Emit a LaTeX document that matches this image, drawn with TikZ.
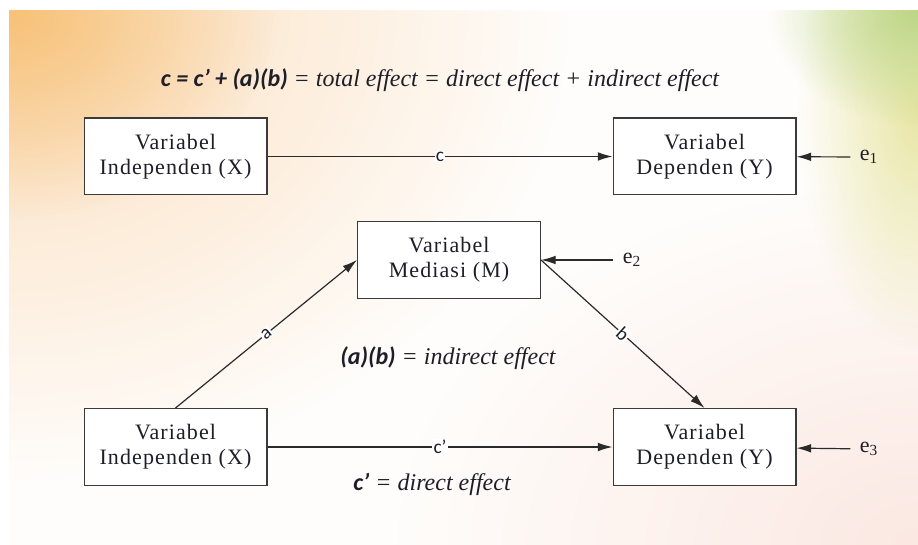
\documentclass[tikz,border=0pt]{standalone}
\usepackage{fontspec}
\setmainfont{Liberation Serif}
\newfontfamily\calib{Carlito}
\newfontfamily\timesit{Liberation Serif}
\newfontfamily\boxfont{Liberation Serif}[LetterSpace=5]
\usetikzlibrary{arrows.meta,fadings}

\definecolor{ink}{HTML}{1E1E28}
\definecolor{linec}{HTML}{2A2A2A}
\definecolor{boxc}{HTML}{3A3A3A}
\definecolor{cream}{HTML}{FFFDFB}
\definecolor{glowor}{HTML}{F7C278}
\definecolor{glowpe}{HTML}{FBDDBB}
\definecolor{glowgr}{HTML}{BCD686}
\definecolor{glowye}{HTML}{E8E6A4}
\definecolor{glowpk}{HTML}{FBE8E2}

\tikzfading[name=glow, inner color=transparent!0, outer color=transparent!100]

\tikzset{
  var/.style={draw=boxc, line width=1pt, fill=white, minimum width=137pt,
    minimum height=57.5pt, align=center, text=ink, inner sep=2pt,
    font=\boxfont\fontsize{16.5}{18.5}\selectfont},
  arr/.style={draw=linec, line width=0.9pt,
    -{Latex[length=11pt,width=6.5pt]}},
  lbl/.style={fill=white, inner sep=0.8pt, text=ink,
    font=\calib\fontsize{14.5}{14.5}\selectfont},
  err/.style={text=ink, inner xsep=7pt, font=\timesit\fontsize{16.5}{16.5}\selectfont},
  eqn/.style={text=ink, font=\fontsize{18}{18}\selectfont}
}

\begin{document}
\begin{tikzpicture}[x=0.75pt,y=-0.75pt]
\useasboundingbox (0,0) rectangle (918,545);
\fill[white] (0,0) rectangle (918,545);

% soft coloured backdrop
\begin{scope}
  \clip (9,11) rectangle (918,545);
  \fill[cream] (9,11) rectangle (918,545);
  \fill[glowpk, path fading=glow] (918,545) ellipse [x radius=520, y radius=360];
  \fill[glowpe, path fading=glow] (9,11) ellipse [x radius=560, y radius=470];
  \fill[glowor, path fading=glow] (9,11) ellipse [x radius=270, y radius=210];
  \fill[glowye, path fading=glow] (918,110) ellipse [x radius=120, y radius=240];
  \fill[glowgr, path fading=glow] (918,11) ellipse [x radius=150, y radius=115];
\end{scope}

% headline equation
\node[eqn] (title) at (440,80)
  {{\calib\bfseries\itshape c = c’ + (a)(b)} {\timesit\itshape = total effect = direct effect + indirect effect}};

% total effect model
\node[var] (X1) at (175.5,156.5) {Variabel\\Independen (X)};
\node[var] (Y1) at (704.5,156.5) {Variabel\\Dependen (Y)};
\node[err] (e1) at (869,157) {e\textsubscript{1}};
\draw[arr] (X1) -- (Y1) node[lbl, midway] {c};
\draw[arr] (e1) -- (Y1);

% mediation model
\node[var] (M) at (449,260) {Variabel\\Mediasi (M)};
\node[var] (X2) at (175.5,447) {Variabel\\Independen (X)};
\node[var] (Y2) at (704.5,447) {Variabel\\Dependen (Y)};
\node[err] (e2) at (632,260) {e\textsubscript{2}};
\node[err] (e3) at (869,449) {e\textsubscript{3}};

\draw[arr] (X2.north) -- (M.west) node[lbl, midway, sloped] {a};
\draw[arr] (M.east) -- (Y2.north) node[lbl, midway, sloped] {b};
\draw[arr] (X2) -- (Y2) node[lbl, midway] {c’};
\draw[arr] (e2) -- (M);
\draw[arr] (e3) -- (Y2);

\node[eqn] (ind) at (448,358)
  {{\calib\bfseries\itshape (a)(b)} {\timesit\itshape = indirect effect}};
\node[eqn] (dir) at (432,484)
  {{\calib\bfseries\itshape c’} {\timesit\itshape = direct effect}};
\end{tikzpicture}
\end{document}
